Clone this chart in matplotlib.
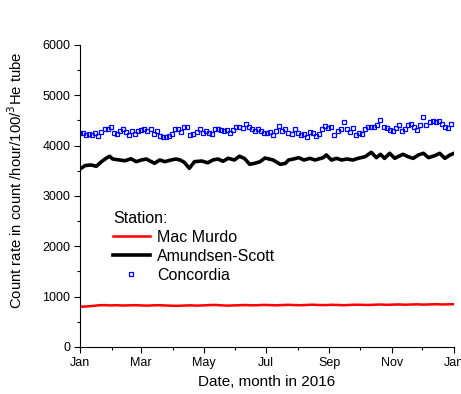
import numpy as np
import pandas as pd
import matplotlib
matplotlib.use('Agg')
import matplotlib.pyplot as plt
import matplotlib.dates as mdates
from matplotlib.ticker import MultipleLocator

plt.rcParams['font.family'] = ['Liberation Sans', 'DejaVu Sans']

# Mac Murdo, every 6 days from Jan 1
mac_murdo = [800, 805, 815, 828, 832, 826, 830, 824, 828, 831, 826, 822, 828, 830, 825, 820,
             818, 824, 828, 822, 826, 832, 836, 828, 822, 826, 830, 834, 828, 830, 836, 832,
             828, 834, 838, 832, 830, 836, 840, 834, 832, 838, 835, 830, 836, 840, 838, 834,
             840, 844, 838, 842, 846, 840, 844, 848, 842, 846, 850, 845, 848, 850]

# Amundsen-Scott, day of year and value
amundsen_days = [0, 5, 11, 16, 21, 26, 29, 32, 37, 44, 50, 55, 60, 65, 68, 73, 78, 83, 89, 94,
                 98, 102, 107, 112, 119, 125, 130, 135, 140, 145, 151, 156, 161, 166, 171, 176,
                 181, 189, 196, 201, 204, 209, 214, 219, 225, 230, 238, 241, 246, 251, 256, 261,
                 267, 272, 279, 285, 290, 294, 298, 303, 308, 311, 316, 321, 326, 331, 336, 341,
                 347, 352, 357, 362, 366]
amundsen = [3536, 3605, 3616, 3590, 3682, 3755, 3790, 3735, 3720, 3700, 3740, 3682, 3715, 3735,
            3700, 3650, 3715, 3682, 3715, 3735, 3715, 3670, 3550, 3682, 3695, 3660, 3715, 3735,
            3690, 3750, 3715, 3790, 3745, 3630, 3650, 3680, 3755, 3715, 3629, 3649, 3715, 3735,
            3762, 3715, 3748, 3715, 3762, 3815, 3715, 3748, 3715, 3735, 3715, 3748, 3781, 3868,
            3762, 3828, 3748, 3848, 3748, 3781, 3828, 3781, 3748, 3815, 3848, 3762, 3801, 3848,
            3748, 3815, 3848]

# Concordia, every 3 days from Jan 1
concordia = [4260, 4260, 4218, 4230, 4205, 4258, 4190, 4272, 4338, 4325, 4378, 4258, 4230, 4285,
             4325, 4272, 4218, 4285, 4230, 4285, 4310, 4338, 4298, 4325, 4238, 4285, 4190, 4172,
             4178, 4190, 4230, 4325, 4338, 4272, 4365, 4378, 4218, 4230, 4272, 4325, 4258, 4298,
             4258, 4230, 4325, 4338, 4305, 4285, 4305, 4258, 4305, 4365, 4378, 4351, 4431, 4365,
             4325, 4285, 4325, 4285, 4258, 4258, 4272, 4205, 4298, 4391, 4285, 4338, 4245, 4230,
             4338, 4258, 4205, 4230, 4178, 4272, 4245, 4190, 4230, 4325, 4391, 4351, 4365,
             4219, 4298, 4325, 4470, 4338, 4272, 4351, 4205, 4258, 4232, 4338, 4365, 4378, 4365,
             4404, 4510, 4378, 4351, 4311, 4298, 4351, 4404, 4298, 4325, 4404, 4430, 4365, 4311,
             4417, 4576, 4404, 4470, 4483, 4470, 4497, 4430, 4365, 4351, 4430]

start = pd.Timestamp('2016-01-01')
mac_dates = pd.date_range(start, periods=len(mac_murdo), freq='6D')
amu_dates = start + pd.to_timedelta(amundsen_days, unit='D')
con_dates = pd.date_range(start, periods=len(concordia), freq='3D')

fig = plt.figure(figsize=(4.61, 3.94), dpi=100)
ax = fig.add_axes([0.1735, 0.1193, 0.8115, 0.7665])

ax.plot(mac_dates, mac_murdo, color='red', lw=1.8, label='Mac Murdo')
ax.plot(amu_dates, amundsen, color='black', lw=2.6, label='Amundsen-Scott')
ax.plot(con_dates, concordia, ls='none', marker='s', ms=3.4, mfc='none', mec='blue',
        mew=0.9, label='Concordia')

ax.set_xlim(start, pd.Timestamp('2017-01-01'))
ax.set_ylim(0, 6000)
ax.xaxis.set_major_locator(mdates.MonthLocator(bymonth=[1, 3, 5, 7, 9, 11]))
ax.xaxis.set_minor_locator(mdates.MonthLocator())
ax.xaxis.set_major_formatter(mdates.DateFormatter('%b'))
ax.yaxis.set_major_locator(MultipleLocator(1000))
ax.yaxis.set_minor_locator(MultipleLocator(500))

for s in ['top', 'right']:
    ax.spines[s].set_visible(False)
ax.tick_params(which='major', direction='out', length=4, width=0.8, labelsize=9, pad=3)
ax.tick_params(which='minor', direction='out', length=2.5, width=0.8)

ax.set_xlabel('Date, month in 2016', fontsize=11)
ax.set_ylabel('Count rate in count /hour/100/$^3$He tube', fontsize=10.7)
ax.yaxis.set_label_coords(-0.147, 0.553)
ax.xaxis.set_label_coords(0.5, -0.093)

leg = ax.legend(title='Station:', loc='upper left', bbox_to_anchor=(0.088, 0.45),
                frameon=False, fontsize=11.5, title_fontsize=11.5, handlelength=2.3,
                handletextpad=0.45, numpoints=1, labelspacing=0.25, borderaxespad=0,
                borderpad=0, alignment='left')

fig.savefig('out.png', dpi=100)
